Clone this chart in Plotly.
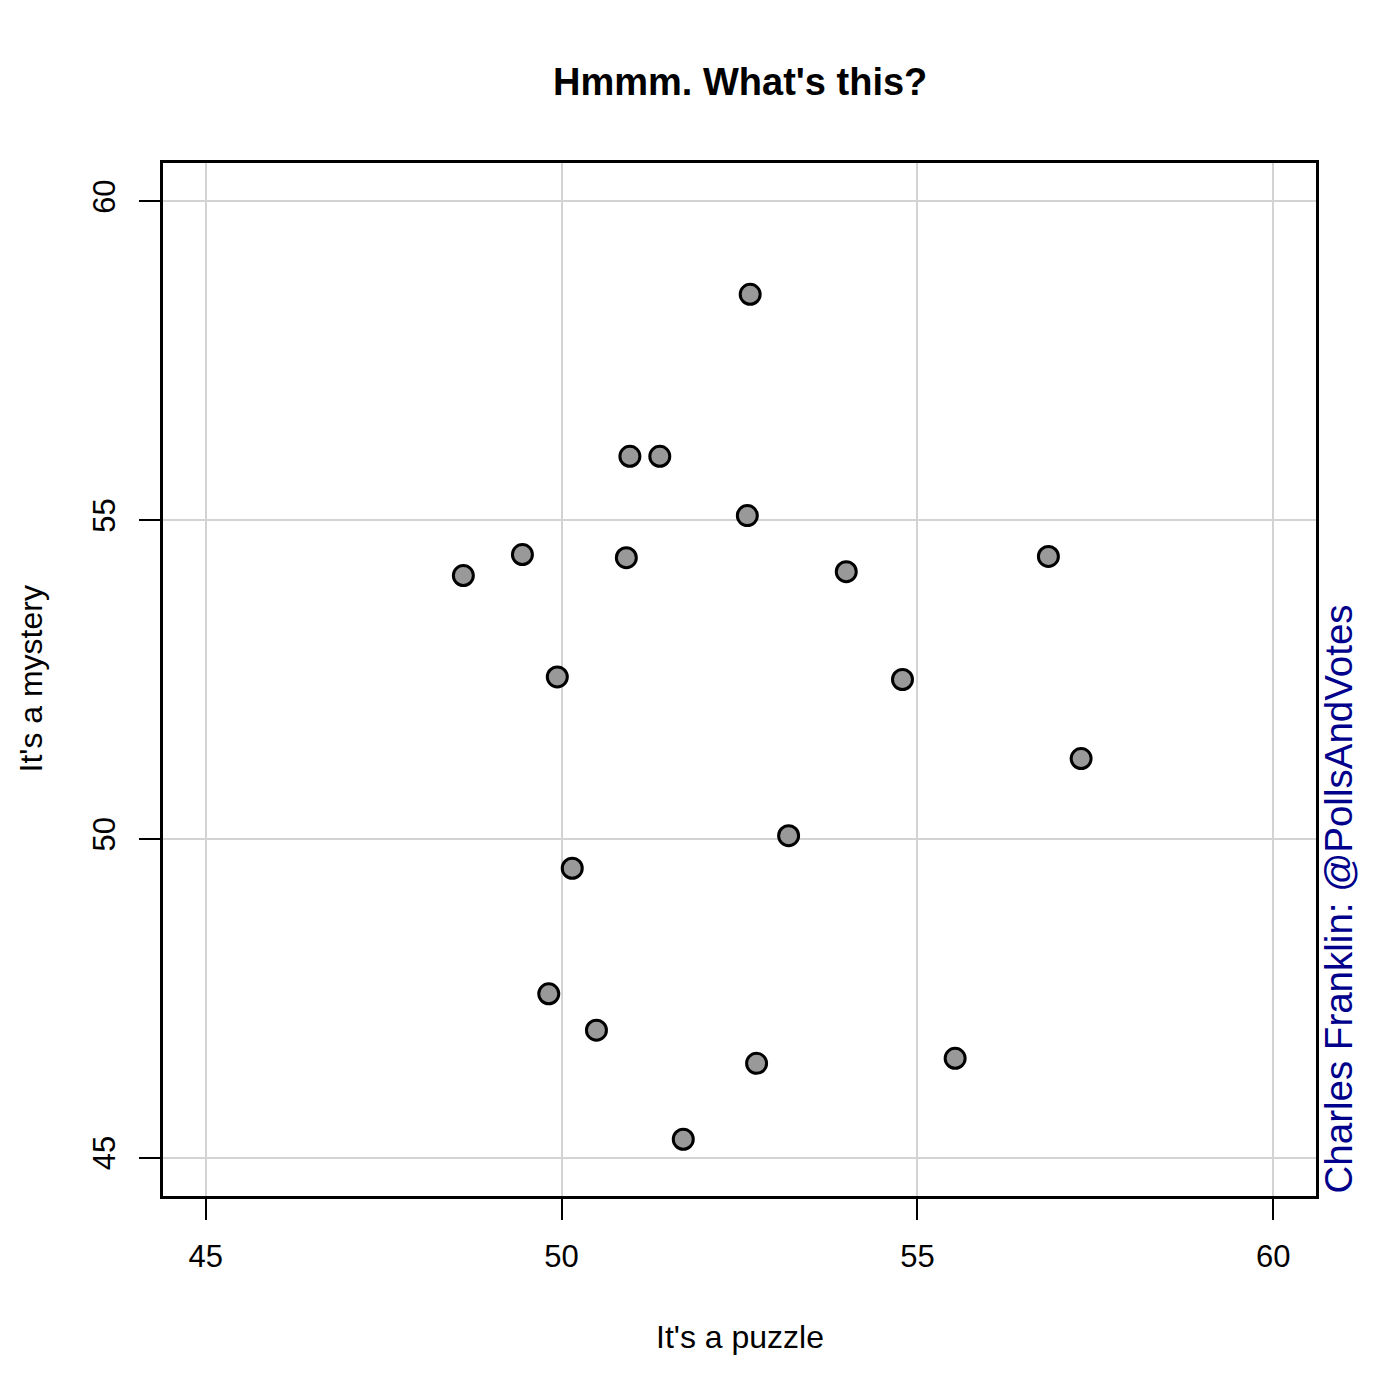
import plotly.graph_objects as go

x_vals = [52.65, 50.96, 51.38, 52.61, 49.45, 50.91, 48.62, 54.00, 56.84, 49.94,
          54.79, 57.30, 53.19, 50.15, 49.82, 50.49, 52.74, 55.53, 51.71]
y_vals = [58.54, 56.00, 56.00, 55.07, 54.46, 54.41, 54.13, 54.19, 54.43, 52.54,
          52.50, 51.26, 50.05, 49.54, 47.57, 47.00, 46.48, 46.56, 45.29]
tick_vals = [45, 50, 55, 60]
tick_text = ["45", "50", "55", "60"]

title_text = "Hmmm. What's this?"
x_title = "It's a puzzle"
y_title = "It's a mystery"
credit = "Charles Franklin: @PollsAndVotes"

FONT = "Liberation Sans, Arial, Helvetica, sans-serif"

fig = go.Figure()
fig.add_trace(go.Scatter(
    x=x_vals, y=y_vals, mode="markers",
    marker=dict(size=20, color="#999999", line=dict(color="black", width=3)),
    showlegend=False, hoverinfo="skip",
))

axis_common = dict(
    tickvals=tick_vals, ticktext=tick_text,
    showgrid=True, gridcolor="#d3d3d3", gridwidth=2,
    showline=True, linecolor="black", linewidth=3, mirror=True,
    ticks="outside", ticklen=21, tickwidth=2, tickcolor="black",
    tickfont=dict(family=FONT, size=31, color="black"),
    zeroline=False,
)

fig.update_xaxes(range=[44.4, 60.6], ticklabelstandoff=10, **axis_common)
fig.update_yaxes(range=[44.4, 60.6], tickangle=-90, ticklabelstandoff=12, **axis_common)

fig.update_layout(
    width=1392, height=1392,
    margin=dict(l=155, r=84, t=155, b=204),
    plot_bgcolor="white", paper_bgcolor="white",
    font=dict(family=FONT, color="black"),
    annotations=[
        dict(text="<b>" + title_text + "</b>", xref="paper", yref="paper",
             x=0.5, y=1, yshift=81, xanchor="center", yanchor="middle",
             showarrow=False, font=dict(size=38, color="black", family=FONT)),
        dict(text=x_title, xref="paper", yref="paper",
             x=0.5, y=0, yshift=-141, xanchor="center", yanchor="middle",
             showarrow=False, font=dict(size=32, color="black", family=FONT)),
        dict(text=y_title, xref="paper", yref="paper",
             x=0, xshift=-133, y=0.5, xanchor="center", yanchor="middle",
             textangle=-90, showarrow=False,
             font=dict(size=32, color="black", family=FONT)),
        dict(text=credit, xref="paper", yref="paper",
             x=1, xshift=22, y=0, xanchor="center", yanchor="bottom",
             textangle=-90, showarrow=False,
             font=dict(size=38.5, color="#00008B", family=FONT)),
    ],
)

fig.write_html("out.html")
